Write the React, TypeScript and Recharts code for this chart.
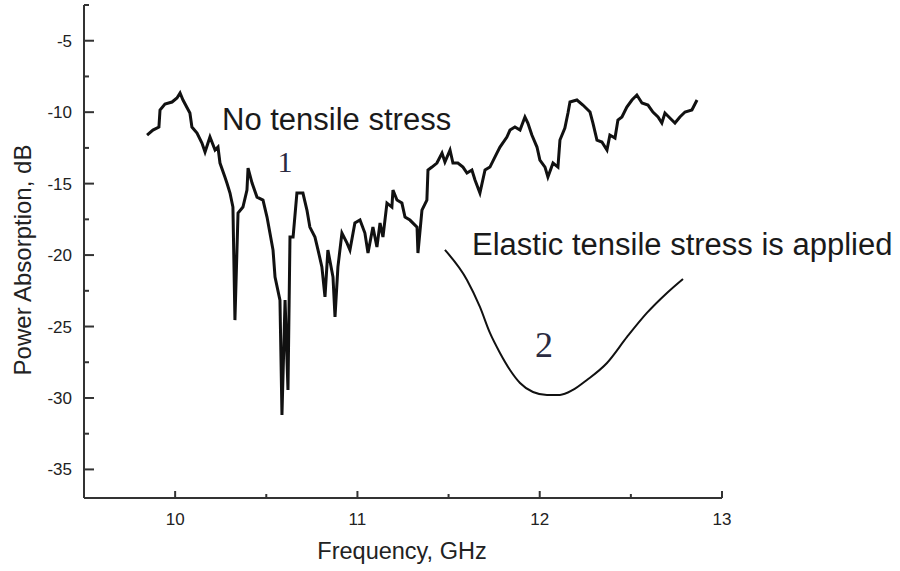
import { LineChart, Line, XAxis, YAxis } from 'recharts'

// curve 1: no tensile stress (noisy trace)
const freqNoStress = [
  9.846, 9.878, 9.911, 9.917, 9.944, 9.983, 10.01, 10.027, 10.043, 10.081, 10.092, 10.12, 10.147, 10.164,
  10.191, 10.219, 10.235, 10.246, 10.273, 10.284, 10.301, 10.317, 10.328, 10.345, 10.372, 10.394, 10.4,
  10.422, 10.449, 10.482, 10.504, 10.52, 10.537, 10.548, 10.575, 10.586, 10.603, 10.619, 10.63, 10.647,
  10.668, 10.701, 10.723, 10.739, 10.767, 10.784, 10.805, 10.822, 10.838, 10.866, 10.877, 10.893, 10.915,
  10.943, 10.959, 10.986, 11.014, 11.041, 11.058, 11.085, 11.107, 11.124, 11.14, 11.162, 11.189, 11.195,
  11.217, 11.244, 11.261, 11.288, 11.327, 11.332, 11.354, 11.381, 11.387, 11.409, 11.436, 11.464, 11.48,
  11.508, 11.524, 11.551, 11.579, 11.601, 11.628, 11.645, 11.672, 11.7, 11.727, 11.765, 11.782, 11.82,
  11.837, 11.864, 11.892, 11.919, 11.935, 11.957, 11.985, 12.001, 12.029, 12.045, 12.073, 12.1, 12.111,
  12.138, 12.155, 12.166, 12.204, 12.237, 12.276, 12.292, 12.314, 12.341, 12.369, 12.385, 12.413, 12.429,
  12.451, 12.478, 12.506, 12.533, 12.561, 12.594, 12.621, 12.649, 12.67, 12.687, 12.725, 12.742, 12.769,
  12.797, 12.835, 12.863,
]
const absNoStress = [
  -11.6, -11.25, -11.04, -9.85, -9.43, -9.29, -9.01, -8.66, -9.15, -10.06, -11.04, -11.46, -12.16, -12.79,
  -11.74, -12.65, -12.44, -13.56, -14.54, -14.96, -15.66, -16.64, -24.55, -17.06, -16.64, -15.45, -13.91,
  -14.96, -15.94, -16.15, -17.34, -18.46, -19.65, -21.54, -23.15, -31.19, -23.15, -29.44, -18.74, -18.74,
  -15.66, -15.66, -16.85, -18.04, -18.74, -19.65, -20.83, -22.93, -19.65, -21.54, -24.33, -20.83, -18.46,
  -19.16, -19.65, -17.76, -17.55, -18.46, -19.86, -18.04, -19.44, -17.76, -18.74, -16.36, -16.64, -15.45,
  -16.15, -16.36, -17.34, -17.55, -18.04, -19.86, -16.85, -16.15, -14.05, -13.84, -13.56, -12.86, -13.49,
  -12.65, -13.56, -13.56, -13.84, -14.26, -14.05, -14.75, -15.66, -14.05, -13.84, -12.86, -12.44, -11.74,
  -11.25, -11.04, -11.25, -10.34, -10.76, -11.6, -12.44, -13.35, -13.84, -14.54, -13.56, -13.84, -11.95,
  -11.11, -10.06, -9.29, -9.15, -9.5, -9.99, -10.76, -11.95, -12.09, -12.65, -11.6, -11.81, -10.55,
  -10.34, -9.64, -9.15, -8.8, -9.36, -9.5, -9.99, -10.34, -10.76, -10.06, -10.55, -10.76, -10.34,
  -9.99, -9.85, -9.15,
]

// curve 2: elastic tensile stress applied
const freqStress = [
  11.48, 11.601, 11.672, 11.727, 11.782, 11.837, 11.892, 11.963, 12.04, 12.111, 12.182, 12.259, 12.369,
  12.479, 12.588, 12.698, 12.786,
]
const absStress = [
  -19.64, -21.74, -23.63, -25.45, -26.85, -28.04, -28.95, -29.58, -29.79, -29.79, -29.44, -28.74, -27.55,
  -25.73, -24.05, -22.65, -21.67,
]

const xTicks = [10, 10.5, 11, 11.5, 12, 12.5, 13]
const yTicks = [-35, -32.5, -30, -27.5, -25, -22.5, -20, -17.5, -15, -12.5, -10, -7.5, -5, -2.5]

const noStress = freqNoStress.map((f, i) => ({ f, v: absNoStress[i] }))
const stress = freqStress.map((f, i) => ({ f, v: absStress[i] }))

const axisColor = '#333'
const font = 'Arial, "Liberation Sans", sans-serif'
const serif = '"Liberation Serif", "Times New Roman", serif'

function XTick({ x, y, payload }: any) {
  const major = Number.isInteger(payload.value)
  return (
    <g>
      <line x1={x} x2={x} y1={y} y2={y - (major ? 7 : 4)} stroke={axisColor} strokeWidth={2} />
      {major && (
        <text x={x} y={y + 27} textAnchor="middle" fontSize={17} fontFamily={font} fill="#222">
          {payload.value}
        </text>
      )}
    </g>
  )
}

function YTick({ x, y, payload }: any) {
  const major = payload.value % 5 === 0
  return (
    <g>
      <line x1={x} x2={x + (major ? 10 : 5)} y1={y} y2={y} stroke={axisColor} strokeWidth={2} />
      {major && (
        <text x={x - 12} y={y + 6} textAnchor="end" fontSize={17} fontFamily={font} fill="#222">
          {payload.value}
        </text>
      )}
    </g>
  )
}

export default function App() {
  return (
    <div style={{ position: 'absolute', left: 0, top: 0, background: '#fff' }}>
      <LineChart width={900} height={571} margin={{ top: 5, right: 178, bottom: 43, left: 0 }}>
        <XAxis
          dataKey="f"
          type="number"
          domain={[9.5, 13]}
          ticks={xTicks}
          allowDataOverflow
          height={30}
          tickLine={false}
          tickSize={0}
          tickMargin={0}
          tick={<XTick />}
          axisLine={{ stroke: axisColor, strokeWidth: 2 }}
          interval={0}
        />
        <YAxis
          type="number"
          domain={[-37, -2.5]}
          ticks={yTicks}
          allowDataOverflow
          width={84}
          tickLine={false}
          tickSize={0}
          tickMargin={0}
          tick={<YTick />}
          axisLine={{ stroke: axisColor, strokeWidth: 2 }}
          interval={0}
        />
        <Line
          data={noStress}
          dataKey="v"
          type="linear"
          stroke="#111"
          strokeWidth={3}
          strokeLinejoin="miter"
          dot={false}
          isAnimationActive={false}
        />
        <Line
          data={stress}
          dataKey="v"
          type="monotone"
          stroke="#111"
          strokeWidth={2}
          dot={false}
          isAnimationActive={false}
        />
        <text x={222} y={130} fontSize={31} fontFamily={font} fill="#1a1a1a">
          No tensile stress
        </text>
        <text x={285} y={172} textAnchor="middle" fontSize={30} fontFamily={serif} fill="#2a2a40">
          1
        </text>
        <text x={472} y={255} fontSize={31} fontFamily={font} fill="#1a1a1a">
          Elastic tensile stress is applied
        </text>
        <text x={544} y={357} textAnchor="middle" fontSize={36} fontFamily={serif} fill="#2a2a40">
          2
        </text>
        <text x={402} y={559} textAnchor="middle" fontSize={23.5} fontFamily={font} fill="#222">
          Frequency, GHz
        </text>
        <text
          x={22}
          y={260}
          textAnchor="middle"
          dominantBaseline="central"
          fontSize={24}
          fontFamily={font}
          fill="#222"
          transform="rotate(-90 22 260)"
        >
          Power Absorption, dB
        </text>
      </LineChart>
    </div>
  )
}
